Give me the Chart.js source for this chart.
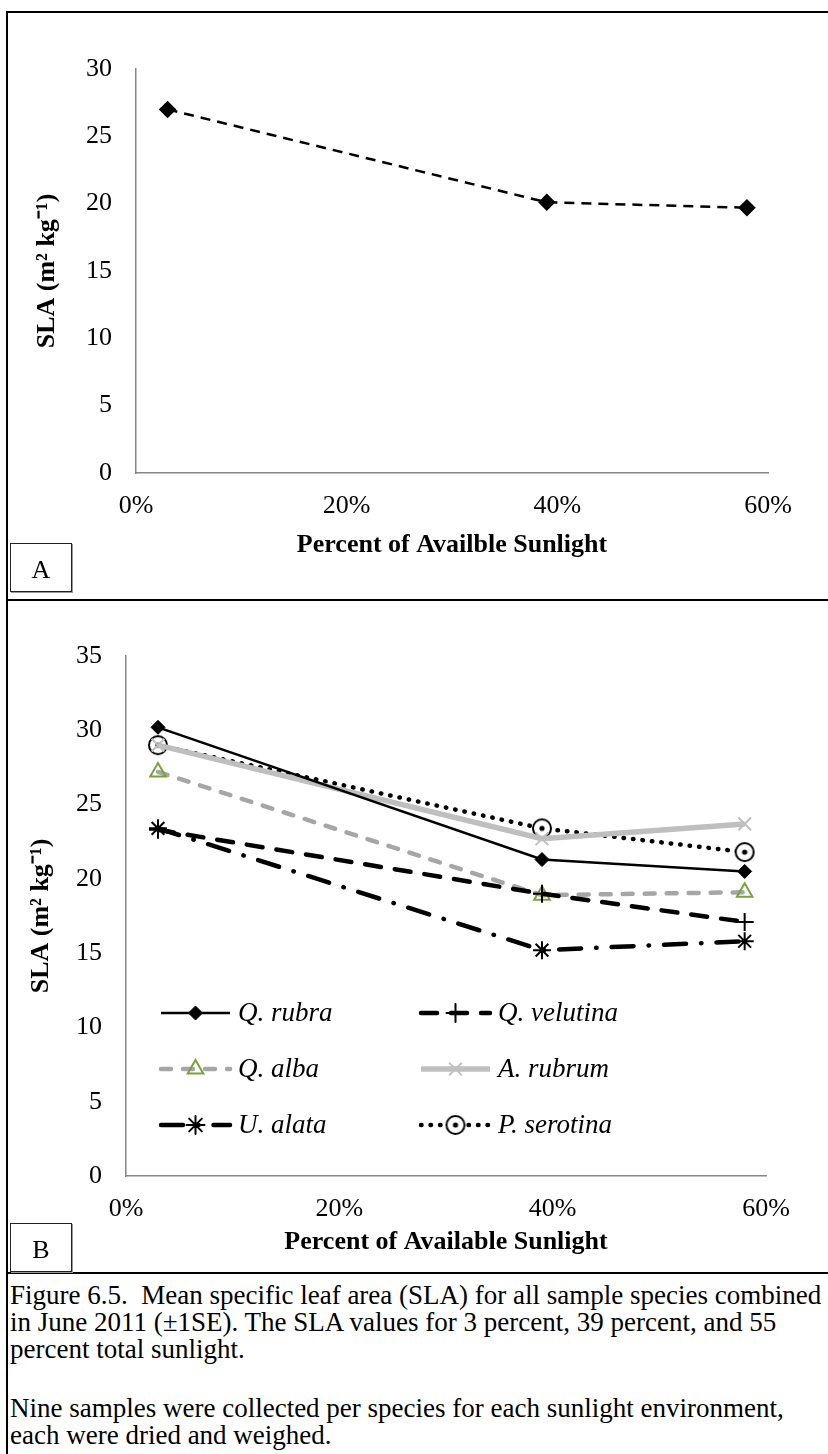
<!DOCTYPE html>
<html>
<head>
<meta charset="utf-8">
<script src="https://cdn.jsdelivr.net/npm/chart.js@4.4.0/dist/chart.umd.min.js"></script>
<style>
  body { margin: 0; background: #fff; width: 828px; height: 1454px; overflow: hidden; position: relative;
         font-family: "Liberation Serif", "Times New Roman", serif; }
  .rule { position: absolute; background: #000; z-index: 2; }
  .tag { position: absolute; left: 10px; width: 62px; height: 49px; box-sizing: border-box;
         border: 1.5px solid #222; box-shadow: 1px 1px 0 #999; font-size: 26px; text-align: center;
         line-height: 52px; color: #000; z-index: 2; }
  .wrap { position: absolute; left: 0; }
  .caption { position: absolute; left: 10px; font-size: 27px; line-height: 27px;
             white-space: pre; color: #000; }
</style>
</head>
<body>
<div class="rule" style="left:6px;top:11px;width:2px;height:1443px"></div>
<div class="rule" style="left:6px;top:11px;width:822px;height:2px"></div>
<div class="rule" style="left:6px;top:599px;width:822px;height:2px"></div>
<div class="rule" style="left:6px;top:1272px;width:822px;height:2px"></div>

<div class="wrap" style="top:12px"><canvas id="chartA" width="828" height="588"></canvas></div>
<div class="wrap" style="top:600px"><canvas id="chartB" width="828" height="672"></canvas></div>

<div class="tag" style="top:543px">A</div>
<div class="tag" style="top:1223px">B</div>

<div class="caption" style="top:1282px">Figure 6.5.  Mean specific leaf area (SLA) for all sample species combined
in June 2011 (±1SE). The SLA values for 3 percent, 39 percent, and 55
percent total sunlight.</div>
<div class="caption" style="top:1395px">Nine samples were collected per species for each sunlight environment,
each were dried and weighed.</div>

<script>
// light levels (fraction of full sun) and x tick values
var sunlight = [0.03, 0.39, 0.58];
var xTickValues = [0, 0.2, 0.4, 0.6];

// panel A: all species combined
var slaAll = [27.0, 20.1, 19.7];

// panel B: per species
var species = ['Q. rubra', 'Q. velutina', 'Q. alba', 'A. rubrum', 'U. alata', 'P. serotina'];
var qRubra = [30.2, 21.3, 20.5];
var qVelutina = [23.3, 19.0, 17.1];
var qAlba = [27.2, 18.9, 19.1];
var aRubrum = [29.0, 22.7, 23.7];
var uAlata = [23.4, 15.2, 15.8];
var pSerotina = [29.0, 23.4, 21.8];

Chart.defaults.font.family = '"Liberation Serif", "Times New Roman", serif';
Chart.defaults.color = '#000';

function pts(vals) {
    return vals.map(function (v, i) { return { x: sunlight[i], y: v }; });
}

// circle with a dot in the middle, used as a point style
var dotCircle = document.createElement('canvas');
dotCircle.width = 22; dotCircle.height = 22;
(function () {
    var c = dotCircle.getContext('2d');
    c.fillStyle = '#fff';
    c.strokeStyle = '#000';
    c.lineWidth = 2;
    c.beginPath(); c.arc(11, 11, 9, 0, Math.PI * 2); c.fill(); c.stroke();
    c.fillStyle = '#000';
    c.beginPath(); c.arc(11, 11, 2.6, 0, Math.PI * 2); c.fill();
})();

function xScale(h, tickPad, titleText, titlePad) {
    return {
        type: 'linear',
        min: 0,
        max: 0.6,
        afterBuildTicks: function (s) { s.ticks = xTickValues.map(function (v) { return { value: v }; }); },
        afterFit: function (s) { s.height = h; },
        grid: { display: false, drawTicks: false },
        border: { display: true, color: '#868686', width: 1.5 },
        ticks: {
            padding: tickPad,
            font: { size: 26 },
            callback: function (v) { return Math.round(v * 100) + '%'; }
        },
        title: {
            display: true,
            text: titleText,
            font: { size: 26, weight: 'bold' },
            padding: { top: 0, bottom: titlePad }
        }
    };
}

function yScale(w, max, titlePad) {
    return {
        min: 0,
        max: max,
        afterFit: function (s) { s.width = w; },
        grid: { display: false, drawTicks: false },
        border: { display: true, color: '#868686', width: 1.5 },
        ticks: { stepSize: 5, padding: 24, font: { size: 26 } },
        title: {
            display: true,
            text: 'SLA (m² kg⁻¹)',
            font: { size: 26, weight: 'bold' },
            padding: { top: titlePad, bottom: 0 }
        }
    };
}

new Chart(document.getElementById('chartA'), {
    type: 'line',
    data: {
        datasets: [{
            label: 'All species',
            data: pts(slaAll),
            borderColor: '#000',
            borderWidth: 2.5,
            borderDash: [10, 7],
            pointStyle: 'rectRot',
            pointRadius: 7,
            pointBackgroundColor: '#000',
            pointBorderColor: '#000',
            tension: 0
        }]
    },
    options: {
        responsive: false,
        animation: false,
        layout: { padding: { top: 57, right: 60, bottom: 0, left: 0 } },
        plugins: { legend: { display: false }, tooltip: { enabled: false } },
        scales: {
            x: xScale(127, 18, 'Percent of Availble Sunlight', 39),
            y: yScale(136, 30, 32)
        }
    }
});

// legend drawn inside the plot area, two columns
var legendSlots = [[161, 413], [421, 413], [161, 469], [421, 469], [161, 525], [421, 525]];
var innerLegend = {
    id: 'innerLegend',
    afterDatasetsDraw: function (chart) {
        var ctx = chart.ctx;
        chart.data.datasets.forEach(function (ds, i) {
            var x0 = legendSlots[i][0], y = legendSlots[i][1];
            var len = 69;
            ctx.save();
            ctx.strokeStyle = ds.borderColor;
            ctx.lineWidth = ds.borderWidth;
            ctx.lineCap = ds.borderCapStyle || 'butt';
            ctx.setLineDash(ds.borderDash || []);
            ctx.beginPath(); ctx.moveTo(x0, y); ctx.lineTo(x0 + len, y); ctx.stroke();
            ctx.setLineDash([]);
            ctx.fillStyle = ds.pointBackgroundColor;
            ctx.strokeStyle = ds.pointBorderColor;
            ctx.lineWidth = ds.pointBorderWidth || 1;
            Chart.helpers.drawPoint(ctx, {
                pointStyle: ds.pointStyle, radius: ds.pointRadius,
                borderWidth: ds.pointBorderWidth || 1, rotation: 0
            }, x0 + len / 2, y);
            ctx.fillStyle = '#000';
            ctx.font = 'italic 27px "Liberation Serif"';
            ctx.textBaseline = 'middle';
            ctx.fillText(ds.label, x0 + len + 8, y + 1);
            ctx.restore();
        });
    }
};

new Chart(document.getElementById('chartB'), {
    type: 'line',
    plugins: [innerLegend],
    data: {
        datasets: [
            {
                label: species[0], data: pts(qRubra),
                borderColor: '#000', borderWidth: 2.5,
                pointStyle: 'rectRot', pointRadius: 7,
                pointBackgroundColor: '#000', pointBorderColor: '#000', pointBorderWidth: 1
            },
            {
                label: species[1], data: pts(qVelutina),
                borderColor: '#000', borderWidth: 4.5, borderDash: [16, 14], borderCapStyle: 'round',
                pointStyle: 'cross', pointRadius: 9,
                pointBackgroundColor: '#000', pointBorderColor: '#000', pointBorderWidth: 2
            },
            {
                label: species[2], data: pts(qAlba),
                borderColor: '#A6A6A6', borderWidth: 4.5, borderDash: [10, 12], borderCapStyle: 'round',
                pointStyle: 'triangle', pointRadius: 9,
                pointBackgroundColor: 'rgba(255,255,255,0)', pointBorderColor: '#77A33F', pointBorderWidth: 2
            },
            {
                label: species[3], data: pts(aRubrum),
                borderColor: '#BFBFBF', borderWidth: 5.5,
                pointStyle: 'crossRot', pointRadius: 9,
                pointBackgroundColor: '#BFBFBF', pointBorderColor: '#BFBFBF', pointBorderWidth: 2
            },
            {
                label: species[4], data: pts(uAlata),
                borderColor: '#000', borderWidth: 4.5, borderDash: [22, 15, 0.5, 15], borderCapStyle: 'round',
                pointStyle: 'star', pointRadius: 9,
                pointBackgroundColor: '#000', pointBorderColor: '#000', pointBorderWidth: 2
            },
            {
                label: species[5], data: pts(pSerotina),
                borderColor: '#000', borderWidth: 4.5, borderDash: [0.5, 9], borderCapStyle: 'round',
                pointStyle: dotCircle, pointRadius: 9,
                pointBackgroundColor: '#fff', pointBorderColor: '#000', pointBorderWidth: 2
            }
        ]
    },
    options: {
        responsive: false,
        animation: false,
        elements: { line: { tension: 0 } },
        layout: { padding: { top: 56, right: 62, bottom: 0, left: 0 } },
        plugins: { legend: { display: false }, tooltip: { enabled: false } },
        scales: {
            x: xScale(96, 18, 'Percent of Available Sunlight', 14),
            y: yScale(126, 35, 26)
        }
    }
});
</script>
</body>
</html>
